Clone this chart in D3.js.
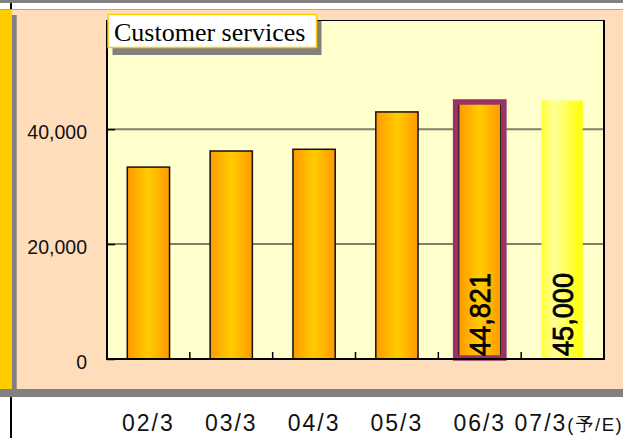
<!DOCTYPE html>
<html>
<head>
<meta charset="utf-8">
<script src="https://cdn.jsdelivr.net/npm/d3@7"></script>
<style>
	body { margin:0; background:#ffffff; }
	svg { display:block; }
</style>
</head>
<body>
<div id="chart"></div>
<script>

var categories = ["02/3", "03/3", "04/3", "05/3", "06/3", "07/3"]
var categorySuffix = ["", "", "", "", "", "(予/E)"]
var sales = [33400, 36200, 36500, 43000, 44821, 45000]
var valueLabels = ["", "", "", "", "44,821", "45,000"]
var yTicks = [0, 20000, 40000]
var gridValues = [20000, 40000]
var chartTitle = "Customer services"


var CHART = (function(CHART, undefined)
{
	var W = 623, H = 438
	var plot = {left:107, right:604, top:20, bottom:359}
	var highlight = 4
	var forecast = 5

	CHART.init = function()
	{
		var svg = d3.select("#chart").append("svg")
		.attr("width", W)
		.attr("height", H)
		.style("font-family", "'Liberation Sans', Arial, sans-serif")

		CHART.makeGradients(svg)
		CHART.drawFrame(svg)

		var x = d3.scaleBand()
		.domain(d3.range(categories.length))
		.range([plot.left, plot.right])
		.paddingInner(0.49)
		.paddingOuter(0.245)

		var y = d3.scaleLinear()
		.domain([0, 59000])
		.range([plot.bottom, plot.top])

		CHART.drawPlot(svg, x, y)
		CHART.drawTitle(svg)
	}


	CHART.makeGradients = function(svg)
	{
		var defs = svg.append("defs")

		var g1 = defs.append("linearGradient")
		.attr("id", "barGrad")
		.attr("x1", "0%").attr("x2", "100%")
		.attr("y1", "0%").attr("y2", "0%")
		g1.append("stop").attr("offset", "0%").attr("stop-color", "#ff9900")
		g1.append("stop").attr("offset", "50%").attr("stop-color", "#ffcc00")
		g1.append("stop").attr("offset", "100%").attr("stop-color", "#ff9900")

		var g2 = defs.append("linearGradient")
		.attr("id", "foreGrad")
		.attr("x1", "0%").attr("x2", "100%")
		.attr("y1", "0%").attr("y2", "0%")
		g2.append("stop").attr("offset", "0%").attr("stop-color", "#ffff33")
		g2.append("stop").attr("offset", "30%").attr("stop-color", "#ffff99")
		g2.append("stop").attr("offset", "100%").attr("stop-color", "#ffff00")
	}


	CHART.drawFrame = function(svg)
	{
		// strips around the slide
		svg.append("rect")
		.attr("x", 0).attr("y", 0).attr("width", W).attr("height", 3)
		.attr("fill", "#808080")

		svg.append("rect")
		.attr("x", 0).attr("y", 9).attr("width", W).attr("height", 1)
		.attr("fill", "#a6a6a6")

		svg.append("rect")
		.attr("x", 0).attr("y", 10).attr("width", W).attr("height", 379)
		.attr("fill", "#ffddbb")

		svg.append("rect")
		.attr("x", 0).attr("y", 10).attr("width", 12).attr("height", 379)
		.attr("fill", "#ffcc00")

		svg.append("rect")
		.attr("x", 12).attr("y", 15).attr("width", 4.7).attr("height", 374)
		.attr("fill", "#808080")

		svg.append("rect")
		.attr("x", 0).attr("y", 389).attr("width", W).attr("height", 8)
		.attr("fill", "#808080")

		svg.append("rect")
		.attr("x", 10).attr("y", 3).attr("width", 2).attr("height", 6)
		.attr("fill", "#000")

		svg.append("rect")
		.attr("x", 10).attr("y", 397).attr("width", 2).attr("height", H - 397)
		.attr("fill", "#000")
	}


	CHART.drawPlot = function(svg, x, y)
	{
		svg.append("rect")
		.attr("x", plot.left).attr("y", plot.top)
		.attr("width", plot.right - plot.left)
		.attr("height", plot.bottom - plot.top)
		.attr("fill", "#ffffcc")

		svg.append("g")
		.attr("class", "grid")
		.selectAll("line")
		.data(gridValues)
		.enter().append("line")
		.attr("x1", plot.left).attr("x2", plot.right)
		.attr("y1", function(d) { return y(d) })
		.attr("y2", function(d) { return y(d) })
		.attr("stroke", "#7f7f6a")
		.attr("stroke-width", 2)

		var bars = svg.append("g").attr("class", "bars")

		bars.selectAll("rect")
		.data(sales)
		.enter().append("rect")
		.attr("x", function(d, i) { return x(i) })
		.attr("width", function(d, i) { return i == forecast ? x.bandwidth() - 1 : x.bandwidth() })
		.attr("y", function(d) { return y(d) })
		.attr("height", function(d) { return y(0) - y(d) })
		.attr("fill", function(d, i) { return i == forecast ? "url(#foreGrad)" : "url(#barGrad)" })
		.attr("stroke", function(d, i) { return i == forecast ? "none" : "#111" })
		.attr("stroke-width", 1.5)

		// highlighted frame for latest actual
		bars.append("rect")
		.attr("x", x(highlight) - 3)
		.attr("width", x.bandwidth() + 6)
		.attr("y", y(sales[highlight]) + 0.5)
		.attr("height", y(0) - y(sales[highlight]) - 1.5)
		.attr("fill", "none")
		.attr("stroke", "#993366")
		.attr("stroke-width", 5.5)

		// value labels, only where a label is given
		var labelled = d3.range(sales.length).filter(function(i) { return valueLabels[i] != "" })
		var fs = 30

		bars.selectAll("text")
		.data(labelled)
		.enter().append("text")
		.attr("transform", function(i)
		{
			var cx = x(i) + x.bandwidth() / 2
			return "translate(" + (cx + fs * 0.358) + ",356) rotate(-90)"
		})
		.attr("font-size", fs)
		.attr("textLength", 83)
		.attr("lengthAdjust", "spacingAndGlyphs")
		.attr("fill", "#000")
		.attr("stroke", "#000")
		.attr("stroke-width", 0.8)
		.text(function(i) { return valueLabels[i] })

		// plot border
		svg.append("line")
		.attr("x1", plot.left).attr("x2", plot.right)
		.attr("y1", plot.top + 0.5).attr("y2", plot.top + 0.5)
		.attr("stroke", "#000").attr("stroke-width", 1.2)

		svg.append("line")
		.attr("x1", plot.left).attr("x2", plot.left)
		.attr("y1", plot.top).attr("y2", plot.bottom + 1)
		.attr("stroke", "#000").attr("stroke-width", 2)

		svg.append("line")
		.attr("x1", plot.right).attr("x2", plot.right)
		.attr("y1", plot.top).attr("y2", plot.bottom + 1)
		.attr("stroke", "#000").attr("stroke-width", 2)

		svg.append("line")
		.attr("x1", plot.left - 1).attr("x2", plot.right + 1)
		.attr("y1", plot.bottom).attr("y2", plot.bottom)
		.attr("stroke", "#000").attr("stroke-width", 2)

		// category boundary ticks
		svg.append("g")
		.attr("class", "xTicks")
		.selectAll("line")
		.data(d3.range(1, categories.length))
		.enter().append("line")
		.attr("x1", function(d) { return plot.left + d * x.step() })
		.attr("x2", function(d) { return plot.left + d * x.step() })
		.attr("y1", plot.bottom).attr("y2", plot.bottom - 7)
		.attr("stroke", "#000").attr("stroke-width", 1.5)

		// y axis
		var yAxis = svg.append("g")
		.attr("class", "yAxis")
		.attr("transform", "translate(" + plot.left + ",0)")
		.call(d3.axisLeft(y)
			.tickValues(yTicks)
			.tickFormat(d3.format(","))
			.tickSize(-8)
			.tickPadding(20))

		yAxis.select(".domain").remove()
		yAxis.selectAll(".tick line").attr("stroke", "#000").attr("stroke-width", 1.5)
		yAxis.selectAll(".tick text")
		.attr("font-size", 19.5)
		.attr("font-family", "'Liberation Sans', Arial, sans-serif")
		.attr("fill", "#111")
		.attr("dy", "0.5em")

		// x axis
		var xAxis = svg.append("g")
		.attr("class", "xAxis")
		.attr("transform", "translate(0," + plot.bottom + ")")
		.call(d3.axisBottom(x)
			.tickSize(0)
			.tickFormat(function(i) { return categories[i] }))

		xAxis.select(".domain").remove()
		xAxis.selectAll(".tick text")
		.attr("font-size", 23)
		.attr("font-family", "'Liberation Sans', Arial, sans-serif")
		.attr("fill", "#111")
		.attr("y", 72)
		.attr("dy", 0)
		.style("letter-spacing", "2px")
		.each(function(i)
		{
			if (categorySuffix[i] != "")
			{
				var t = d3.select(this)
				t.attr("text-anchor", "start")
				.attr("x", -48)
				t.append("tspan")
				.attr("font-size", 18.5)
				.style("letter-spacing", "1.5px")
				.attr("font-family", "'Liberation Sans', 'Noto Sans CJK JP', sans-serif")
				.text(categorySuffix[i])
			}
		})
	}


	CHART.drawTitle = function(svg)
	{
		var t = svg.append("g").attr("class", "title")

		t.append("rect")
		.attr("x", 112.5).attr("y", 21)
		.attr("width", 209).attr("height", 34)
		.attr("fill", "#808080")

		t.append("rect")
		.attr("x", 108).attr("y", 14.5)
		.attr("width", 208.5).attr("height", 33)
		.attr("fill", "#ffffff")
		.attr("stroke", "#ffcc00")
		.attr("stroke-width", 1.5)

		t.append("text")
		.attr("x", 114).attr("y", 41)
		.attr("font-family", "'Liberation Serif', 'Times New Roman', serif")
		.attr("font-size", 26)
		.attr("fill", "#000")
		.text(chartTitle)
	}


	return CHART

}(CHART || {}))


CHART.init()

</script>
</body>
</html>
